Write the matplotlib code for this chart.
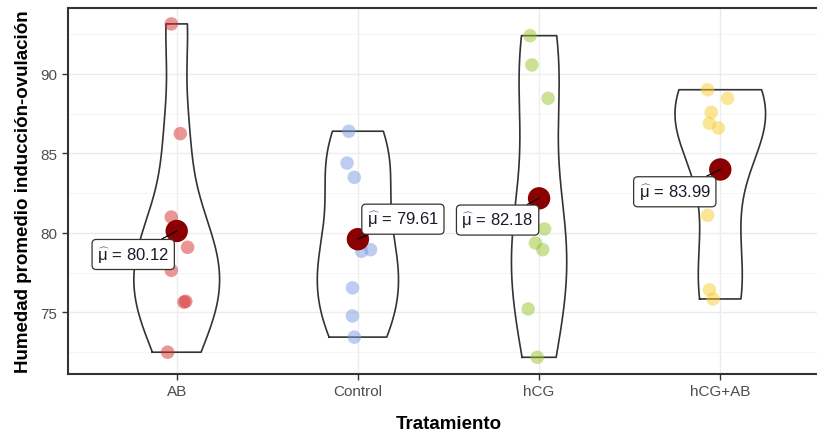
import numpy as np
import matplotlib
matplotlib.use("Agg")
import matplotlib.pyplot as plt

plt.rcParams['font.family'] = ['Liberation Sans', 'DejaVu Sans']
plt.rcParams['mathtext.fontset'] = 'custom'
plt.rcParams['mathtext.rm'] = 'Liberation Sans'
plt.rcParams['mathtext.it'] = 'Liberation Sans'

# Data
groups = ["AB", "Control", "hCG", "hCG+AB"]
ab = [93.15, 86.25, 81.0, 79.1, 77.65, 75.7, 75.65, 72.5]
control = [86.40, 84.40, 83.50, 78.85, 78.95, 76.55, 74.78, 73.45]
hcg = [92.41, 90.57, 88.47, 80.25, 79.37, 78.95, 75.22, 72.18]
hcg_ab = [89.01, 88.47, 87.59, 86.90, 86.60, 81.11, 76.42, 75.85]
values = [ab, control, hcg, hcg_ab]
jitter = [
    [-0.03, 0.02, -0.03, 0.06, -0.03, 0.05, 0.04, -0.05],
    [-0.05, -0.06, -0.02, 0.02, 0.07, -0.03, -0.03, -0.02],
    [-0.05, -0.04, 0.05, 0.03, -0.02, 0.02, -0.06, -0.01],
    [-0.07, 0.04, -0.05, -0.06, -0.01, -0.07, -0.06, -0.04],
]
point_colors = ["#D62F2F", "#7C9BE0", "#9CC42E", "#F8CD2E"]
mean_labels = [80.12, 79.61, 82.18, 83.99]
# label offsets (pixels) from each mean point
label_offsets = [(-43.5, -23.5), (45, 20), (-41.5, -21.7), (-45.5, -22.3)]


def bw_nrd0(x):
    x = np.asarray(x)
    hi = np.std(x, ddof=1)
    q75, q25 = np.percentile(x, [75, 25])
    lo = min(hi, (q75 - q25) / 1.34)
    return 0.9 * lo * len(x) ** (-0.2)


def kde(x, grid):
    x = np.asarray(x)
    bw = bw_nrd0(x)
    z = (grid[:, None] - x[None, :]) / bw
    return np.exp(-0.5 * z ** 2).sum(axis=1) / (len(x) * bw * np.sqrt(2 * np.pi))


W, H = 817, 439
fig = plt.figure(figsize=(W / 100, H / 100), dpi=100)
ax = fig.add_axes([68 / W, 1 - 375 / H, 761 / W, (375 - 9) / H])

grids, dens = [], []
for v in values:
    g = np.linspace(min(v), max(v), 512)
    grids.append(g)
    dens.append(kde(v, g))
dmax = max(d.max() for d in dens)

for i, (v, g, d) in enumerate(zip(values, grids, dens)):
    xc = i + 1
    hw = 0.25 * d / dmax
    xs = np.concatenate([xc - hw, (xc + hw)[::-1], [xc - hw[0]]])
    ys = np.concatenate([g, g[::-1], [g[0]]])
    ax.fill(xs, ys, color="white", alpha=0.2, zorder=2)
    ax.plot(xs, ys, color="#333333", lw=1.2, zorder=3)
    ax.scatter(np.array(jitter[i]) + xc, v, s=95, color=point_colors[i],
               alpha=0.5, edgecolors="none", zorder=4)
    m = np.mean(v)
    ax.scatter([xc], [m], s=260, color="#8B0000", edgecolors="none", zorder=6)
    dx, dy = label_offsets[i]
    ax.annotate(r"$\widehat{\mathrm{\mu}}\,=\,$" + f"{mean_labels[i]:.2f}",
                xy=(xc, m), xytext=(dx * 0.72, dy * 0.72), textcoords="offset points",
                ha="center", va="center", fontsize=12, color="#1a1a2a",
                bbox=dict(boxstyle="round,pad=0.3,rounding_size=0.25",
                          fc="white", ec="#333333", lw=0.9),
                arrowprops=dict(arrowstyle="-", color="black", lw=0.9,
                                shrinkA=0, shrinkB=0),
                zorder=7)

ax.set_xlim(0.4, 4.6)
ax.set_ylim(71.13, 94.15)
ax.set_xticks(range(1, 5))
ax.set_xticklabels(groups)
ax.set_yticks([75, 80, 85, 90])
ax.set_yticks([72.5, 77.5, 82.5, 87.5, 92.5], minor=True)
ax.grid(True, which="major", color="#EBEBEB", lw=1.0, zorder=0)
ax.grid(True, which="minor", axis="y", color="#F2F2F2", lw=0.6, zorder=0)
ax.set_axisbelow(True)
ax.tick_params(axis="both", which="major", length=4, width=1.0, color="#333333",
               labelcolor="#4D4D4D", labelsize=11)
ax.tick_params(axis="y", which="minor", length=0)
for s in ax.spines.values():
    s.set_color("#333333")
    s.set_linewidth(1.5)

ax.set_xlabel("Tratamiento", fontsize=13.5, fontweight="bold", labelpad=12)
ax.set_ylabel("Humedad promedio inducción-ovulación", fontsize=13.5,
              fontweight="bold", labelpad=6)

fig.savefig("out.png", dpi=100)
